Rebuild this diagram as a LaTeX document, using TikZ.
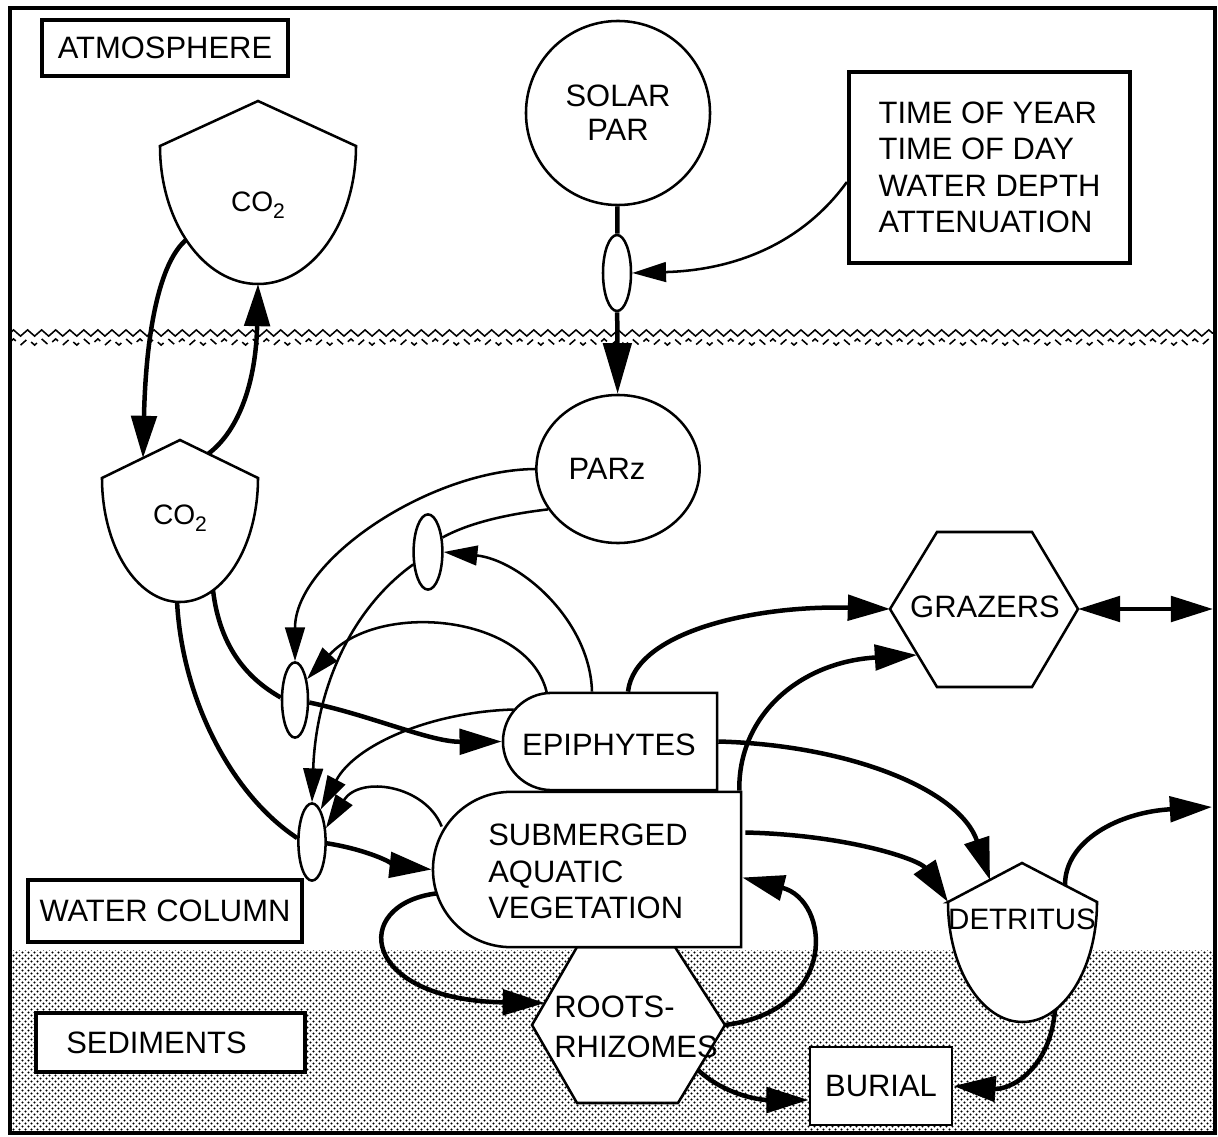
\documentclass[tikz,border=0pt]{standalone}
\usepackage{fontspec}
\setmainfont{Liberation Sans}
\usetikzlibrary{arrows.meta,shapes.geometric,shapes.misc,patterns,decorations.pathmorphing,calc}

\pgfdeclarepatternformonly{sdots}{\pgfpointorigin}{\pgfpoint{4.6pt}{4.6pt}}{\pgfpoint{4.6pt}{4.6pt}}{%
  \pgfpathcircle{\pgfpoint{1.15pt}{1.15pt}}{0.85pt}%
  \pgfpathcircle{\pgfpoint{3.45pt}{3.45pt}}{0.85pt}%
  \pgfusepath{fill}}

\pgfdeclarelayer{back}
\pgfdeclarelayer{wires}
\pgfsetlayers{back,wires,main}

\newcommand\cotwo{CO\raisebox{-0.45ex}{\fontsize{15}{15}\selectfont 2}}

\begin{document}
\begin{tikzpicture}[x=0.025cm,y=-0.025cm,
  every node/.style={font=\fontsize{22}{26}\selectfont},
  frame/.style={line width=2.8pt},
  lbl/.style={draw,line width=2.8pt,fill=white,inner sep=0pt},
  shp/.style={draw,line width=1.8pt,fill=white},
  mod/.style={shp,ellipse,inner sep=0pt},
  thk/.style={line width=3.2pt,-{Triangle[length=30pt,width=18pt]}},
  thn/.style={line width=1.8pt,-{Triangle[length=24pt,width=14pt]}},
  thkline/.style={line width=3.2pt},
  thnline/.style={line width=1.8pt}]

\useasboundingbox (0,0) rectangle (1218,1137);

\begin{pgfonlayer}{back}
  \fill[white] (0,0) rectangle (1218,1137);
  \fill[pattern=sdots] (10,950) rectangle (1215,1133);
  \draw[line width=1.1pt,decorate,decoration={zigzag,amplitude=2.2pt,segment length=10pt}] (10,333) -- (1215,333);
  \draw[line width=1.1pt,dash pattern=on 5.5pt off 4.5pt,decorate,decoration={zigzag,amplitude=2.2pt,segment length=10pt}] (10,342) -- (1215,342);
\end{pgfonlayer}

% label boxes
\node[lbl,minimum width=6.15cm,minimum height=1.4cm] (atm) at (165,48) {ATMOSPHERE};
\node[lbl,align=left,minimum width=7.03cm,minimum height=4.78cm] (time) at (989.5,167.5) {TIME OF YEAR\\TIME OF DAY\\WATER DEPTH\\ATTENUATION};
\node[lbl,minimum width=6.85cm,minimum height=1.55cm] (wc) at (165,911) {WATER COLUMN};
\node[lbl,minimum width=6.73cm,minimum height=1.48cm] (sed) at (170.5,1042.5) {\hspace*{-0.7cm}SEDIMENTS};
\node[lbl,line width=2pt,minimum width=3.55cm,minimum height=1.95cm] (burial) at (881,1086) {BURIAL};

% sources and circles
\node[shp,circle,minimum size=4.6cm,inner sep=0pt,align=center,font=\fontsize{22}{24}\selectfont] (solar) at (618,113) {SOLAR\\PAR};
\node[shp,ellipse,minimum width=4.08cm,minimum height=3.7cm,inner sep=0pt] (parz) at (618,469) {\hspace*{-0.55cm}PARz};

% modulators
\node[mod,minimum width=0.7cm,minimum height=1.9cm] (e1) at (617,273) {};
\node[mod,minimum width=0.72cm,minimum height=1.88cm] (e2) at (428,552) {};
\node[mod,minimum width=0.65cm,minimum height=1.88cm] (e3) at (295,700) {};
\node[mod,minimum width=0.68cm,minimum height=1.93cm] (e4) at (312,842) {};

% CO2 tanks
\draw[shp] (160,146) -- (258,101) -- (356,146) arc[start angle=0,end angle=180,x radius=98,y radius=138] -- cycle;
\node[font=\fontsize{20}{24}\selectfont] (co2a) at (258,205) {\cotwo};
\draw[shp] (102,478) -- (180,440) -- (258,478) arc[start angle=0,end angle=180,x radius=78,y radius=124] -- cycle;
\node[font=\fontsize{20}{24}\selectfont] (co2w) at (180,518) {\cotwo};

% grazers
\draw[shp] (890,609) -- (937,532) -- (1032,532) -- (1078,609) -- (1032,687) -- (937,687) -- cycle;
\node (graz) at (985,607) {GRAZERS};

% roots
\draw[shp] (532,1025) -- (577,947) -- (675,947) -- (725,1025) -- (678,1103) -- (577,1103) -- cycle;
\node[align=left,font=\fontsize{22}{28}\selectfont] (roots) at (636,1027) {ROOTS-\\RHIZOMES};

% epiphytes and SAV
\node[shp,rounded rectangle,rounded rectangle right arc=none,minimum width=5.35cm,minimum height=2.43cm,inner sep=0pt] (epi) at (610,741.5) {};
\node (epit) at (609,745) {EPIPHYTES};
\node[shp,rounded rectangle,rounded rectangle right arc=none,minimum width=7.7cm,minimum height=3.88cm,inner sep=0pt] (sav) at (587,869.5) {};
\node[align=left] (savt) at (588,871.5) {SUBMERGED\\AQUATIC\\VEGETATION};

% detritus
\draw[shp] (948,902) -- (1022,863) -- (1097,902) arc[start angle=0,end angle=180,x radius=74.5,y radius=120] -- cycle;
\node[font=\fontsize{21}{24}\selectfont] (detr) at (1022,919) {DETRITUS};

% attachment points
\coordinate (co2a-l) at (186,240);
\coordinate (co2a-b) at (258,284);
\coordinate (co2w-tl) at (143,458);
\coordinate (co2w-tr) at (208,454);
\coordinate (co2w-br) at (213,590);
\coordinate (co2w-b) at (177,601);
\coordinate (graz-w) at (890,609);
\coordinate (graz-e) at (1078,609);
\coordinate (graz-sw) at (917,655);
\coordinate (detr-tl) at (990,880);
\coordinate (detr-l) at (948,902);
\coordinate (detr-tr) at (1065,885);
\coordinate (detr-br) at (1055,1010);
\coordinate (roots-nw) at (545,1003);
\coordinate (roots-e) at (725,1025);
\coordinate (roots-se) at (698,1070);
\coordinate (edgeA) at (1213,609);
\coordinate (edgeB) at (1212,807);

\begin{pgfonlayer}{wires}
  \draw[thk] (co2a-l) .. controls (160,262) and (146,330) .. (co2w-tl);
  \draw[thk] (co2w-tr) .. controls (240,430) and (256,380) .. (co2a-b);
  \draw[thkline] (solar) -- (e1);
  \draw[line width=3.2pt,-{Triangle[length=36pt,width=20pt]}] (e1) -- (parz);
  \draw[thn] ($(time.west)+(0,14.5)$) .. controls (805,240) and (740,270) .. (e1.east);
  \draw[thkline] (co2w-br) .. controls (220,650) and (250,680) .. (e3.170);
  \draw[thk] (e3.-10) .. controls (370,715) and (430,742) .. (epi.west);
  \draw[thkline] (co2w-b) .. controls (182,700) and (232,795) .. (e4.165);
  \draw[thk] (e4.-5) .. controls (370,850) and (400,866) .. (sav.west);
  \draw[thn] (parz.west) .. controls (430,470) and (295,560) .. (e3.north);
  \draw[thnline] (parz.210) .. controls (500,515) and (465,525) .. (e2.45);
  \draw[thn] (e2.220) .. controls (350,610) and (316,690) .. (e4.north);
  \draw[thn] ($(epi.north)+(-18,0)$) .. controls (590,620) and (520,560) .. (e2.east);
  \draw[thn] ($(epi.north)+(-63,2)$) .. controls (530,615) and (380,600) .. (e3.60);
  \draw[thn] ($(epi.west)+(12,-32)$) .. controls (430,712) and (355,745) .. (e4.75);
  \draw[thn] ($(sav.west)+(10,-43)$) .. controls (425,785) and (360,775) .. (e4.45);
  \draw[thk] ($(epi.north)+(18,0)$) .. controls (635,630) and (760,605) .. (graz-w);
  \draw[thk] ($(sav.north east)+(-3,0)$) .. controls (738,715) and (800,662) .. (graz-sw);
  \draw[line width=3.2pt,{Triangle[length=30pt,width=18pt]}-{Triangle[length=30pt,width=18pt]}] (graz-e) -- (edgeA);
  \draw[thk] (epi.east) .. controls (850,745) and (960,790) .. (detr-tl);
  \draw[thk] ($(sav.east)+(3,-37)$) .. controls (850,835) and (920,860) .. (detr-l);
  \draw[thk] (detr-tr) .. controls (1065,840) and (1120,812) .. (edgeB);
  \draw[thk] (detr-br) .. controls (1050,1070) and (1010,1090) .. (burial.east);
  \draw[thk] ($(sav.west)+(4,24)$) .. controls (350,905) and (360,1000) .. (roots-nw);
  \draw[thk] (roots-e) .. controls (840,1010) and (830,900) .. ($(sav.east)+(0,8)$);
  \draw[thk] (roots-se) .. controls (725,1095) and (760,1100) .. ($(burial.west)+(0,14)$);
\end{pgfonlayer}

\draw[frame] (10,8) rectangle (1215,1133);
\end{tikzpicture}
\end{document}
